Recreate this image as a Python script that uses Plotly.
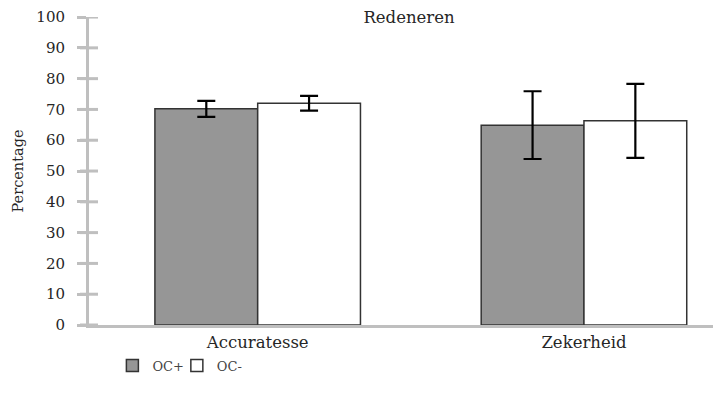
import plotly.graph_objects as go

categories = ["Accuratesse", "Zekerheid"]
oc_plus = [70.2, 64.9]
oc_plus_err = [2.6, 11.0]
oc_min = [72.0, 66.3]
oc_min_err = [2.4, 12.0]
y_ticks = [0, 10, 20, 30, 40, 50, 60, 70, 80, 90, 100]
y_tick_labels = [str(v) for v in y_ticks]

FONT = "DejaVu Serif"
TXT = "#262626"
AXIS = "#bfbfbf"
xpos = [0, 1]

# page body has an 8px margin, so the figure is sized to fit the window
W, H = 713, 396

fig = go.Figure()
fig.add_trace(go.Bar(
    x=xpos, y=oc_plus, name="OC+", legend="legend",
    marker=dict(color="#969696", line=dict(color="#333333", width=1.5)),
    error_y=dict(type="data", array=oc_plus_err, color="black", thickness=2.2, width=9),
))
fig.add_trace(go.Bar(
    x=xpos, y=oc_min, name="OC-", legend="legend2",
    marker=dict(color="#ffffff", line=dict(color="#333333", width=1.5)),
    error_y=dict(type="data", array=oc_min_err, color="black", thickness=2.2, width=9),
))

# tick marks crossing the y axis line (9px each side), placed at the tick values
for v in y_ticks:
    fig.add_shape(type="line", xref="paper", xsizemode="pixel", xanchor=0,
                  x0=-9, x1=9, yref="y", y0=v, y1=v,
                  line=dict(color=AXIS, width=3), layer="below")

legend_style = dict(orientation="h", xanchor="left", y=-0.132, yanchor="middle",
                    font=dict(family=FONT, size=13, color="#444444"), itemwidth=30,
                    bgcolor="rgba(0,0,0,0)")

fig.update_layout(
    width=W, height=H,
    margin=dict(l=81, r=0, t=7, b=79),
    paper_bgcolor="white", plot_bgcolor="white",
    barmode="group", bargap=0.37, bargroupgap=0,
    font=dict(family=FONT, size=14, color=TXT),
    title=dict(text="Redeneren", x=401/W, xanchor="center", y=1-9/H, yanchor="middle",
               font=dict(family=FONT, size=16.5, color=TXT)),
    showlegend=True,
    legend=dict(x=0.037, **legend_style),
    legend2=dict(x=0.139, **legend_style),
    xaxis=dict(
        range=[-0.517, 1.42], tickvals=xpos, ticktext=categories,
        showline=True, linecolor=AXIS, linewidth=3, ticks="",
        showgrid=False, zeroline=False,
        tickfont=dict(family=FONT, size=16.5, color=TXT),
    ),
    yaxis=dict(
        range=[0, 100.02], tickvals=y_ticks, ticktext=y_tick_labels,
        showline=True, linecolor=AXIS, linewidth=3,
        ticks="outside", ticklen=9, tickwidth=3, tickcolor=AXIS,
        ticklabelstandoff=9, ticklabeloverflow="allow",
        showgrid=False, zeroline=False,
        tickfont=dict(family=FONT, size=15, color=TXT),
        title=dict(text="Percentage", font=dict(family=FONT, size=14.5, color=TXT), standoff=10),
    ),
)

fig.write_html("out.html")
